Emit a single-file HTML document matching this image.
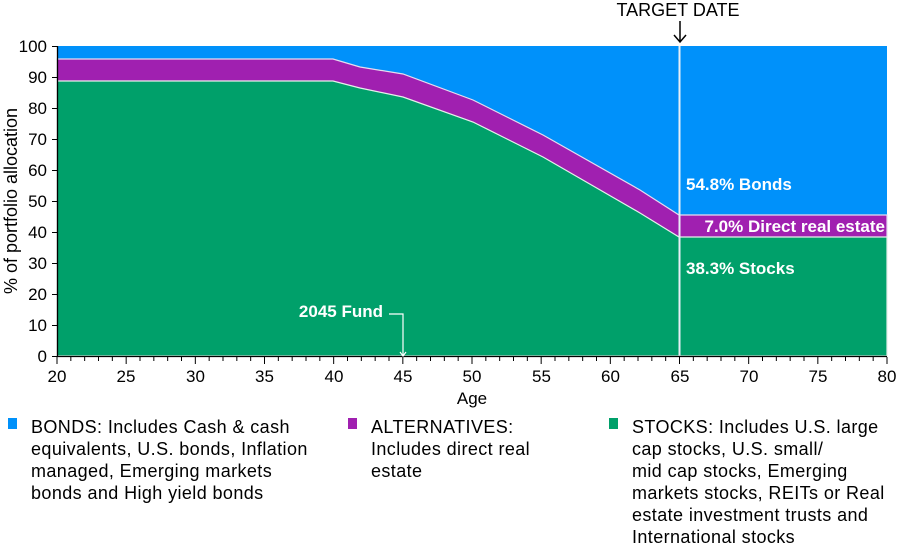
<!DOCTYPE html>
<html><head><meta charset="utf-8"><style>
body{margin:0;background:#fff;width:900px;height:558px;overflow:hidden;font-family:"Liberation Sans",sans-serif}
svg{display:block}
</style></head><body>
<svg width="900" height="558" viewBox="0 0 900 558" xmlns="http://www.w3.org/2000/svg" font-family="Liberation Sans, sans-serif">
<rect x="57" y="46" width="830" height="310" fill="#0091fa"/>
<polygon fill="#a020b0" stroke="#e6dcef" stroke-width="1.2" points="57,59 333,59 360,67 403,74 473,100 543,135 640,190 679,215 887,215 887,356 57,356"/>
<polygon fill="#00a06a" stroke="#e6f0ea" stroke-width="1.2" points="57,81 333,81 360,88 403,97 473,122 543,157 640,213 679,237 887,237 887,356 57,356"/>
<line x1="679.5" y1="46" x2="679.5" y2="356" stroke="#e8eef5" stroke-width="2"/>
<line x1="57.5" y1="46" x2="57.5" y2="357" stroke="#000" stroke-width="1.3"/>
<line x1="57" y1="356.5" x2="887" y2="356.5" stroke="#000" stroke-width="1.3"/>
<g stroke="#000" stroke-width="1">
<line x1="52" y1="46.5" x2="57" y2="46.5"/><line x1="52" y1="77.5" x2="57" y2="77.5"/><line x1="52" y1="108.5" x2="57" y2="108.5"/><line x1="52" y1="139.5" x2="57" y2="139.5"/><line x1="52" y1="170.5" x2="57" y2="170.5"/><line x1="52" y1="201.5" x2="57" y2="201.5"/><line x1="52" y1="232.5" x2="57" y2="232.5"/><line x1="52" y1="263.5" x2="57" y2="263.5"/><line x1="52" y1="294.5" x2="57" y2="294.5"/><line x1="52" y1="325.5" x2="57" y2="325.5"/><line x1="52" y1="356.5" x2="57" y2="356.5"/>
</g>
<g id="xt" stroke="#000" stroke-width="1"></g>
<g font-size="17" text-anchor="end" fill="#000">
<text x="47" y="52">100</text><text x="47" y="83">90</text><text x="47" y="114">80</text><text x="47" y="145">70</text><text x="47" y="176">60</text><text x="47" y="207">50</text><text x="47" y="238">40</text><text x="47" y="269">30</text><text x="47" y="300">20</text><text x="47" y="331">10</text><text x="47" y="362">0</text>
</g>
<g font-size="17" text-anchor="middle" fill="#000">
<text x="57" y="382">20</text><text x="126" y="382">25</text><text x="195.5" y="382">30</text><text x="264.5" y="382">35</text><text x="334" y="382">40</text><text x="403" y="382">45</text><text x="472" y="382">50</text><text x="541.5" y="382">55</text><text x="610.5" y="382">60</text><text x="680" y="382">65</text><text x="749" y="382">70</text><text x="818" y="382">75</text><text x="887" y="382">80</text>
<text x="472" y="404">Age</text>
<text x="678" y="16" font-size="18">TARGET DATE</text>
</g>
<text transform="translate(17,201) rotate(-90)" font-size="18" text-anchor="middle">% of portfolio allocation</text>
<path d="M680,21 V41 M674,35 L680,42 L686,35" stroke="#000" stroke-width="1.5" fill="none"/>
<g fill="#fff" font-size="17" font-weight="bold">
<text x="686" y="190">54.8% Bonds</text>
<text x="885" y="232" text-anchor="end">7.0% Direct real estate</text>
<text x="686" y="274">38.3% Stocks</text>
<text x="383" y="317" text-anchor="end">2045 Fund</text>
</g>
<path d="M389,314 H403 V356 M400,352 L403,356 L406,352" stroke="#fff" stroke-width="1.2" fill="none"/>
<rect x="8" y="418" width="9" height="11" fill="#0091fa"/>
<rect x="348" y="418" width="9" height="11" fill="#a020b0"/>
<rect x="609" y="418" width="9" height="11" fill="#00a06a"/>
<g font-size="18" fill="#000" letter-spacing="0.4">
<text x="31" y="433">BONDS: Includes Cash &amp; cash</text>
<text x="31" y="455">equivalents, U.S. bonds, Inflation</text>
<text x="31" y="477">managed, Emerging markets</text>
<text x="31" y="499">bonds and High yield bonds</text>
<text x="371" y="433">ALTERNATIVES:</text>
<text x="371" y="455">Includes direct real</text>
<text x="371" y="477">estate</text>
<text x="632" y="433">STOCKS: Includes U.S. large</text>
<text x="632" y="455">cap stocks, U.S. small/</text>
<text x="632" y="477">mid cap stocks, Emerging</text>
<text x="632" y="499">markets stocks, REITs or Real</text>
<text x="632" y="521">estate investment trusts and</text>
<text x="632" y="543">International stocks</text>
</g>
</svg>
<script>
var g=document.getElementById('xt'),s='';
for(var i=0;i<=60;i++){var x=57+i*830/60;var l=(i%5==0)?7:4;s+='<line x1="'+x+'" y1="357" x2="'+x+'" y2="'+(357+l)+'"/>';}
g.innerHTML=s;
</script>
</body></html>
